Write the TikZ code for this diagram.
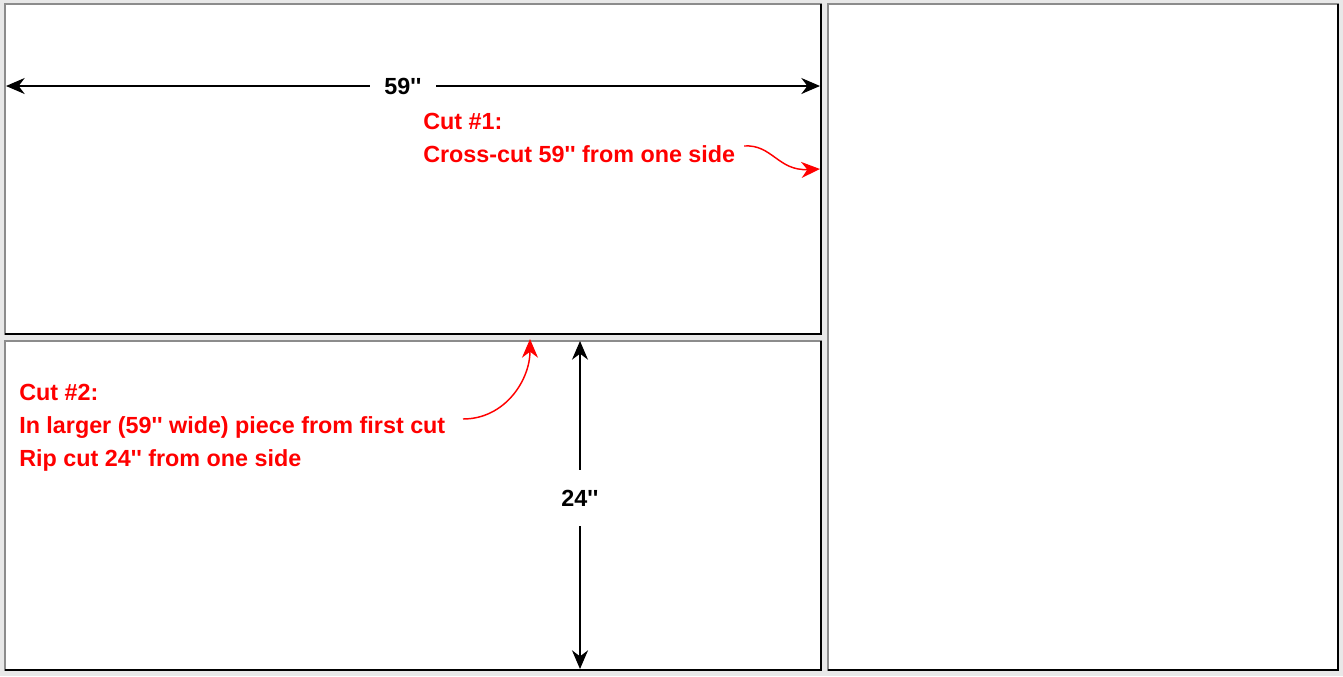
\documentclass[tikz,border=0pt]{standalone}
\usepackage{fontspec}
\newfontfamily\lsans{Liberation Sans}
\usetikzlibrary{arrows.meta}
\definecolor{bgc}{RGB}{232,232,232}
\definecolor{cutred}{RGB}{255,0,0}
\newcommand\inch{\textquotesingle\textquotesingle}
\begin{document}
\begin{tikzpicture}[x=0.75pt,y=-0.75pt,
  panel/.style={fill=white,draw=black!45,line width=0.9pt},
  dimline/.style={draw=black,line width=1.1pt,{Stealth[length=14pt,width=12pt,inset=4.5pt]}-{Stealth[length=14pt,width=12pt,inset=4.5pt]}},
  dimlabel/.style={fill=white,font=\lsans\bfseries\fontsize{17.5}{21}\selectfont,inner xsep=11pt,inner ysep=12pt},
  note/.style={text=cutred,font=\lsans\bfseries\fontsize{17.5}{24.75}\selectfont,align=left,inner sep=0pt,anchor=base west},
  notearrow/.style={draw=cutred,line width=1.1pt,-{Stealth[length=14pt,width=12pt,inset=4.5pt]}}
]
\fill[bgc] (0,0) rectangle (1343,676);
\useasboundingbox (0,0) rectangle (1343,676);
% panels
\path[panel] (5,4) rectangle (821,334);
\draw[black,line width=1.4pt] (821,4) -- (821,334) -- (5,334);
\path[panel] (5,341) rectangle (821,670);
\draw[black,line width=1.4pt] (821,341) -- (821,670) -- (5,670);
\path[panel] (828,4) rectangle (1338,670);
\draw[black,line width=1.4pt] (1338,4) -- (1338,670) -- (828,670);
% dimension 59''
\coordinate (wL) at (6,86);
\coordinate (wR) at (820,86);
\draw[dimline] (wL) -- (wR) node[dimlabel,pos=0.4877] (w) {59\inch};
% dimension 24''
\coordinate (hT) at (580,341);
\coordinate (hB) at (580,669);
\draw[dimline] (hT) -- (hB) node[dimlabel,pos=0.4787,inner ysep=15pt,inner xsep=4pt] (h) {24\inch};
% notes
\node[note] (c1) at (423,162) {Cut \#1:\\Cross-cut 59\inch{} from one side};
\node[note] (c2) at (19,466) {Cut \#2:\\In larger (59\inch{} wide) piece from first cut\\Rip cut 24\inch{} from one side};
\coordinate (a1s) at (744,146);
\coordinate (a1e) at (820,169);
\draw[notearrow] (a1s) .. controls (772,144) and (778,171) .. (a1e);
\coordinate (a2s) at (463,419);
\coordinate (a2e) at (530,339);
\draw[notearrow] (a2s) .. controls (505,419) and (530,380) .. (a2e);
\end{tikzpicture}
\end{document}
